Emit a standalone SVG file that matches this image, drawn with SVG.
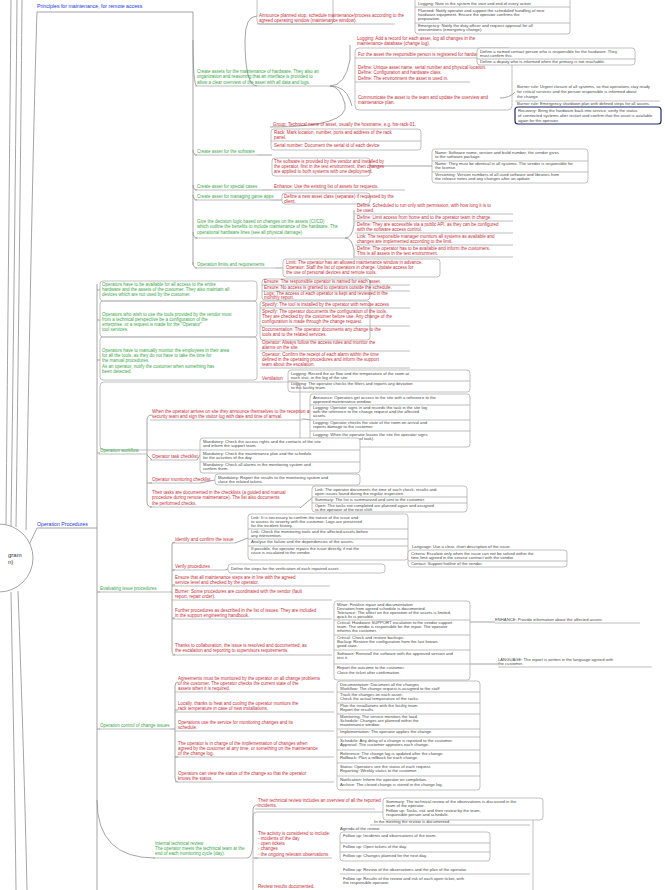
<svg xmlns="http://www.w3.org/2000/svg" width="665" height="890" viewBox="0 0 665 890">
<style>
text{font-family:"Liberation Sans",Arial,sans-serif;font-size:4.5px}
.g{fill:#3aa848}
.r{fill:#c8303a}
.b{fill:#2236d8;font-size:5.2px}
.k{fill:#4a4a4a;font-size:4.2px}
.c{fill:none;stroke:#8e8e8e;stroke-width:0.8}
.u{fill:none;stroke:#a0a0a0;stroke-width:0.7}
.grp{fill:none;stroke:#b0b0b0;stroke-width:0.8}
.lf{fill:#fff;stroke:#a6a6a6;stroke-width:0.7}
.bl{fill:#fff;stroke:#1d2a6e;stroke-width:1.2}
</style>
<rect width="665" height="890" fill="#fff"/>

<g id="connectors">
  <path class="c" d="M6 526 C8 300 10 120 11 0"/>
  <path class="c" d="M11 526 C14 300 16 120 17 0"/>
  <path class="c" d="M16 527 C19 300 21 120 22 0"/>
  <path class="c" d="M26 530 C30 300 34 100 37 12"/>
  <path class="c" d="M28 547 L37 528 L97 528"/>
  <path class="c" d="M18 591 C22 700 25 800 27 890"/>
  <path class="c" d="M11 592 C13 700 15 800 16 890"/>
  <path class="c" d="M97 284 L97 890"/>
  <path class="c" d="M37 12 L193 12 L193 265"/>
  <path class="c" d="M193 40 Q193 86 197 86"/>
  <path class="c" d="M193 150 Q193 155 197 155"/>
  <path class="c" d="M193 185 Q193 190 197 190"/>
  <path class="c" d="M193 195 Q193 200 197 200"/>
  <path class="c" d="M193 232 Q193 238 197 238"/>
  <path class="c" d="M193 262 Q193 268 197 268"/>
  <path class="c" d="M330 86 Q345 86 350 60 L350 45"/>
  <path class="c" d="M330 86 Q345 86 350 100 L352 106"/>
  <path class="c" d="M257 16 Q245 16 245 40 Q245 86 257 86"/>
  <path class="c" d="M330 86 Q340 86 345 104 Q350 127 270 127"/>
  <path class="c" d="M257 155 L272 155"/>
  <path class="c" d="M370 166 Q400 166 432 166"/>
  <path class="c" d="M262 190 L272 190"/>
  <path class="c" d="M270 200 L282 200"/>
  <path class="c" d="M345 238 Q352 238 354 225 L354 210"/>
  <path class="c" d="M345 238 Q352 238 354 250 L354 258"/>
  <path class="c" d="M275 268 L283 268"/>
  <path class="c" d="M500 98 Q510 98 515 92"/>
  <path class="c" d="M97 290 L100 290"/>
  <path class="c" d="M97 320 L100 320"/>
  <path class="c" d="M97 360 L100 360"/>
  <path class="c" d="M97 453 L100 453"/>
  <path class="c" d="M97 592 L100 592"/>
  <path class="c" d="M97 729 L100 729"/>
  <path class="c" d="M97 800 Q97 858 155 858"/>
  <path class="c" d="M147 455 L147 420 Q147 415 152 415"/>
  <path class="c" d="M147 455 L147 502 Q147 507 152 507"/>
  <path class="c" d="M147 455 L152 460"/>
  <path class="c" d="M147 483 L152 483"/>
  <path class="c" d="M197 460 L200 455"/>
  <path class="c" d="M200 483 L215 480"/>
  <path class="c" d="M302 419 Q306 419 310 420"/>
  <path class="c" d="M300 508 L312 498"/>
  <path class="c" d="M170 592 L172 592 L172 545 Q172 542 175 542"/>
  <path class="c" d="M172 592 L172 650 Q172 655 175 655"/>
  <path class="c" d="M172 570 L175 570"/>
  <path class="c" d="M172 585 L175 585"/>
  <path class="c" d="M172 618 L175 618"/>
  <path class="c" d="M235 543 L248 538"/>
  <path class="c" d="M225 570 L228 569"/>
  <path class="c" d="M330 555 L408 555"/>
  <path class="c" d="M170 729 L175 729 L175 686 Q175 682 178 682"/>
  <path class="c" d="M175 729 L175 778 Q175 782 178 782"/>
  <path class="c" d="M175 710 L178 710"/>
  <path class="c" d="M175 757 L178 757"/>
  <path class="c" d="M247 858 Q253 858 253 840 L253 810"/>
  <path class="c" d="M253 810 Q253 805 258 805"/>
  <path class="c" d="M253 858 L258 858"/>
  <path class="c" d="M470 622 L495 622"/>
  <path class="c" d="M470 664 L498 664"/>
  <path class="c" d="M530 810 L543 810"/>
</g>

<g id="root">
  <circle cx="-1" cy="558" r="34" fill="#fff" stroke="#9a9a9a" stroke-width="0.9"/>
  <text x="8" y="557" style="font-size:6px;fill:#333">gram</text>
  <text x="8" y="564" style="font-size:6px;fill:#333">n)</text>
</g>

<g id="n-principles">
  <text class="b" x="37" y="8">Principles for maintenance, for remote access</text>
</g>

<g id="n-op-procedures">
  <text class="b" x="37" y="526">Operation Procedures</text>
</g>

<g id="n-top-red">
  <rect class="grp" x="257" y="-10" width="76" height="34" rx="3"/>
  <text class="r" x="259" y="17">Announce planned stop, schedule maintenance/process according to the</text>
  <text class="r" x="259" y="22">agreed operating window (maintenance window).</text>
  <path class="u" d="M257 24 L395 24"/>
</g>

<g id="leaf-top">
  <rect class="lf" x="415" y="-4" width="155" height="38" rx="3"/>
  <text class="k" x="418" y="5">Logging:     Note in the system the start and end of every action</text>
  <path class="u" d="M415 7 L570 7"/>
  <text class="k" x="418" y="12">Planned:   Notify operator and support the scheduled handling of new</text>
  <text class="k" x="418" y="16">hardware equipment. Ensure the operator confirms the</text>
  <text class="k" x="418" y="20">preparation.</text>
  <path class="u" d="M415 23 L570 23"/>
  <text class="k" x="418" y="27">Emergency:  Notify the duty officer and request approval for all</text>
  <text class="k" x="418" y="31">interventions (emergency change).</text>
</g>

<g id="n-create-hw">
  <text class="g" x="197" y="73">Create assets for the maintenance of hardware. They also an</text>
  <text class="g" x="197" y="78">organization and reasoning that an interface is provided to</text>
  <text class="g" x="197" y="84">allow a clear overview of the asset with all data and logs.</text>
  <path class="u" d="M195 86 L330 86"/>
</g>

<g id="n-hw-details">
  <text class="r" x="357" y="40">Logging:     Add a record for each asset, log all changes in the</text>
  <text class="r" x="357" y="45">maintenance database (change log).</text>
  <rect class="grp" x="355" y="48" width="157" height="62" rx="4"/>
  <text class="r" x="358" y="56">For the asset the responsible person is registered for hardware</text>
  <path class="u" d="M355 58 L477 58"/>
  <text class="r" x="358" y="69">Define:  Unique asset name, serial number and physical location.</text>
  <text class="r" x="358" y="74">Define:      Configuration and hardware class.</text>
  <text class="r" x="358" y="80">Define:      The environment the asset is used in.</text>
  <path class="u" d="M355 82 L470 82"/>
  <text class="r" x="358" y="99">Communicate the asset to the team and update the overview and</text>
  <text class="r" x="358" y="104">maintenance plan.</text>
</g>

<g id="leaf-owner">
  <rect class="lf" x="477" y="48" width="158" height="17" rx="3"/>
  <text class="k" x="480" y="53">Define a named contact person who is responsible for the hardware. They</text>
  <text class="k" x="480" y="57">must confirm this.</text>
  <path class="u" d="M477 59 L635 59"/>
  <text class="k" x="480" y="63">Define a deputy who is informed when the primary is not reachable.</text>
</g>

<g id="n-burner">
  <text class="k" x="517" y="88">Burner rule:  Urgent closure of all systems, so that operations stay ready</text>
  <text class="k" x="517" y="93">for critical services and the person responsible is informed about</text>
  <text class="k" x="517" y="98">the change.</text>
  <path class="u" d="M515 101 L660 101"/>
  <text class="k" x="517" y="105">Burner rule:  Emergency shutdown plan with defined steps for all assets.</text>
  <rect class="bl" x="515" y="107" width="146" height="17" rx="3"/>
  <text class="k" x="518" y="112">Recovery:      Bring the hardware back into service, verify the status</text>
  <text class="k" x="518" y="117">of connected systems after restart and confirm that the asset is available</text>
  <text class="k" x="518" y="122">again for the operator.</text>
</g>

<g id="n-group">
  <text class="r" x="273" y="126">Group:      Technical name of asset, usually the hostname, e.g. hw-rack-01.</text>
  <rect class="grp" x="271" y="129" width="150" height="21" rx="3"/>
  <text class="r" x="274" y="134">Rack:      Mark location, number, ports and address of the rack</text>
  <text class="r" x="274" y="139">panel.</text>
  <path class="u" d="M271 141 L421 141"/>
  <text class="r" x="274" y="147">Serial number:    Document the serial id of each device</text>
</g>

<g id="n-create-sw">
  <text class="g" x="197" y="153">Create asset for the software</text>
  <path class="u" d="M195 155 L257 155"/>
  <rect class="grp" x="272" y="158" width="98" height="18" rx="3"/>
  <text class="r" x="274" y="163">The software is provided by the vendor and installed by</text>
  <text class="r" x="274" y="168">the operator, first in the test environment, then changes</text>
  <text class="r" x="274" y="173">are applied to both systems with one deployment.</text>
</g>

<g id="leaf-sw">
  <rect class="lf" x="432" y="149" width="156" height="34" rx="3"/>
  <text class="k" x="435" y="154">Name:   Software name, version and build number, the vendor gives</text>
  <text class="k" x="435" y="158">to the software package.</text>
  <path class="u" d="M432 161 L588 161"/>
  <text class="k" x="435" y="165">Name:   They must be identical in all systems. The vendor is responsible for</text>
  <text class="k" x="435" y="169">the license.</text>
  <path class="u" d="M432 172 L588 172"/>
  <text class="k" x="435" y="176">Versioning:      Version numbers of all used software and libraries from</text>
  <text class="k" x="435" y="180">the release notes and any changes after an update.</text>
</g>

<g id="n-special">
  <text class="g" x="197" y="188">Create asset for special cases</text>
  <path class="u" d="M195 190 L262 190"/>
  <text class="r" x="274" y="188">Enhance:      Use the existing list of assets for requests.</text>
  <path class="u" d="M272 190 L405 190"/>
</g>

<g id="n-games">
  <text class="g" x="197" y="198">Create asset for managing game apps</text>
  <path class="u" d="M195 200 L270 200"/>
  <rect class="grp" x="282" y="193" width="88" height="11" rx="3"/>
  <text class="r" x="284" y="198">Define a new asset class (separate) if requested by the</text>
  <text class="r" x="284" y="203">client.</text>
</g>

<g id="n-decision">
  <text class="g" x="197" y="223">Give the decision logic based on changes on the assets (CI/CD)</text>
  <text class="g" x="197" y="228">which outline the benefits to include maintenance of the hardware. The</text>
  <text class="g" x="197" y="234">operational hardware lines (see all physical damage).</text>
  <path class="u" d="M195 238 L345 238"/>
</g>

<g id="n-decision-list">
  <text class="r" x="357" y="207">Define:      Scheduled to run only with permission, with how long it is to</text>
  <text class="r" x="357" y="212">be used.</text>
  <path class="u" d="M355 214 L513 214"/>
  <text class="r" x="357" y="219">Define:      Limit access from home and to the operator team in charge.</text>
  <path class="u" d="M355 221 L513 221"/>
  <text class="r" x="357" y="226">Define: They are accessible via a public API, as they can be configured</text>
  <text class="r" x="357" y="231">with the software access control.</text>
  <path class="u" d="M355 233 L513 233"/>
  <text class="r" x="357" y="238">Link:     The responsible manager monitors all systems as available and</text>
  <text class="r" x="357" y="243">changes are implemented according to the limit.</text>
  <path class="u" d="M355 245 L513 245"/>
  <text class="r" x="357" y="250">Define:  The operator has to be available and inform the customers.</text>
  <text class="r" x="357" y="255">This is all assets in the test environment.</text>
  <path class="u" d="M355 257 L513 257"/>
</g>

<g id="n-limits">
  <text class="g" x="197" y="266">Operation limits and requirements</text>
  <path class="u" d="M195 268 L275 268"/>
  <rect class="grp" x="283" y="259" width="157" height="18" rx="3"/>
  <text class="r" x="286" y="264">Limit:    The operator has an allowed maintenance window in advance.</text>
  <text class="r" x="286" y="269">Operator: Staff the list of operators in charge. Update access for</text>
  <text class="r" x="286" y="274">the use of personal devices and remote tools.</text>
</g>

<g id="n-ops-1">
  <rect class="grp" x="100" y="281" width="157" height="20" rx="3"/>
  <text class="g" x="102" y="286">Operators have to be available for all access to the entire</text>
  <text class="g" x="102" y="291">hardware and the assets of the customer. They also maintain all</text>
  <text class="g" x="102" y="296">devices which are not used by the customer.</text>
  <rect class="grp" x="262" y="279" width="108" height="21" rx="3"/>
  <text class="r" x="264" y="283">Ensure:  The responsible operator is named for each asset.</text>
  <path class="u" d="M262 285 L410 285"/>
  <text class="r" x="264" y="289">Ensure:  No access is granted to operators outside the schedule.</text>
  <path class="u" d="M262 291 L410 291"/>
  <text class="r" x="264" y="295">Logs:  The access of each operator is kept and reviewed in the</text>
  <text class="r" x="264" y="299">monthly report.</text>
</g>

<g id="n-ops-2">
  <rect class="grp" x="100" y="301" width="157" height="36" rx="3"/>
  <text class="g" x="102" y="316">Operators who wish to use the tools provided by the vendor must</text>
  <text class="g" x="102" y="321">from a technical perspective be a configuration of the</text>
  <text class="g" x="102" y="326">enterprise, or a request is made for the "Operator"</text>
  <text class="g" x="102" y="331">tool services.</text>
  <rect class="grp" x="260" y="301" width="110" height="39" rx="3"/>
  <text class="r" x="262" y="306">Specify:   The tool is installed by the operator with remote access</text>
  <path class="u" d="M260 308 L410 308"/>
  <text class="r" x="262" y="313">Specify:  The operator documents the configuration of the tools.</text>
  <text class="r" x="262" y="318">They are checked by the customer before use. Any change of the</text>
  <text class="r" x="262" y="323">configuration is made through the change request.</text>
  <path class="u" d="M260 326 L410 326"/>
  <text class="r" x="262" y="331">Documentation:    The operator documents any change to the</text>
  <text class="r" x="262" y="336">tools and to the related services.</text>
</g>

<g id="n-ops-3">
  <rect class="grp" x="100" y="337" width="157" height="43" rx="3"/>
  <text class="g" x="102" y="352">Operators have to manually monitor the employees in their area</text>
  <text class="g" x="102" y="357">for all the tools, as they do not have to take the time for</text>
  <text class="g" x="102" y="362">the manual procedures.</text>
  <text class="g" x="102" y="368">As an operator, notify the customer when something has</text>
  <text class="g" x="102" y="373">been detected.</text>
  <text class="r" x="262" y="344">Operator:    Always follow the access rules and monitor the</text>
  <text class="r" x="262" y="349">alarms on the site.</text>
  <path class="u" d="M260 351 L410 351"/>
  <text class="r" x="262" y="356">Operator:  Confirm the receipt of each alarm within the time</text>
  <text class="r" x="262" y="361">defined in the operating procedures and inform the support</text>
  <text class="r" x="262" y="366">team about the escalation.</text>
  <path class="u" d="M260 368 L410 368"/>
  <text class="r" x="262" y="380">Ventilation</text>
</g>

<g id="leaf-vent">
  <rect class="lf" x="288" y="370" width="182" height="22" rx="3"/>
  <text class="k" x="291" y="375">Logging:   Record the air flow and the temperature of the room at</text>
  <text class="k" x="291" y="379">each visit, in the log of the site.</text>
  <path class="u" d="M288 381 L470 381"/>
  <text class="k" x="291" y="385">Logging:   The operator checks the filters and reports any deviation</text>
  <text class="k" x="291" y="389">to the facility team.</text>
</g>

<g id="n-arrive">
  <rect class="grp" x="100" y="382" width="200" height="68" rx="4"/>
  <text class="r" x="152" y="413">When the operator arrives on site they announce themselves to the reception and the</text>
  <text class="r" x="152" y="418">security team and sign the visitor log with date and time of arrival.</text>
  <path class="u" d="M150 420 L302 420"/>
</g>

<g id="leaf-arrive">
  <rect class="lf" x="310" y="394" width="160" height="53" rx="3"/>
  <text class="k" x="313" y="399">Announce:   Operators get access to the site with a reference to the</text>
  <text class="k" x="313" y="403">approved maintenance window.</text>
  <path class="u" d="M310 405 L470 405"/>
  <text class="k" x="313" y="409">Logging:   Operator signs in and records the task in the site log</text>
  <text class="k" x="313" y="413">with the reference to the change request and the affected</text>
  <text class="k" x="313" y="417">assets.</text>
  <path class="u" d="M310 420 L470 420"/>
  <text class="k" x="313" y="424">Logging:   Operator checks the state of the room on arrival and</text>
  <text class="k" x="313" y="428">reports damage to the customer.</text>
  <path class="u" d="M310 431 L470 431"/>
  <text class="k" x="313" y="436">Logging:  When the operator leaves the site the operator signs</text>
  <text class="k" x="313" y="440">out (date, time, outcome of task).</text>
</g>

<g id="n-workflow">
  <text class="g" x="100" y="452">Operation workflow</text>
  <path class="u" d="M99 454 L147 454"/>
</g>

<g id="n-task-checklist">
  <text class="r" x="152" y="458">Operator task checklist</text>
  <path class="u" d="M150 460 L197 460"/>
  <rect class="lf" x="200" y="438" width="160" height="35" rx="3"/>
  <text class="k" x="203" y="443">Mandatory:     Check the access rights and the contacts of the site</text>
  <text class="k" x="203" y="447">and inform the support team.</text>
  <path class="u" d="M200 450 L360 450"/>
  <text class="k" x="203" y="455">Mandatory:     Check the maintenance plan and the schedule</text>
  <text class="k" x="203" y="459">for the activities of the day.</text>
  <path class="u" d="M200 462 L360 462"/>
  <text class="k" x="203" y="466">Mandatory:   Check all alarms in the monitoring system and</text>
  <text class="k" x="203" y="470">confirm them.</text>
</g>

<g id="n-monitor-checklist">
  <text class="r" x="152" y="481">Operator monitoring checklist</text>
  <path class="u" d="M150 483 L200 483"/>
  <rect class="lf" x="215" y="474" width="145" height="11" rx="3"/>
  <text class="k" x="218" y="479">Mandatory:   Report the results to the monitoring system and</text>
  <text class="k" x="218" y="483">close the related tickets.</text>
</g>

<g id="n-tasks">
  <text class="r" x="152" y="494">Their tasks are documented in the checklists (a guided and manual</text>
  <text class="r" x="152" y="499">procedure during remote maintenance). The list also documents</text>
  <text class="r" x="152" y="505">the performed checks.</text>
  <path class="u" d="M150 507 L300 507"/>
  <rect class="lf" x="312" y="486" width="155" height="26" rx="3"/>
  <text class="k" x="315" y="491">Link:     The operator documents the time of each check, results and</text>
  <text class="k" x="315" y="495">open issues found during the regular inspection.</text>
  <path class="u" d="M312 497 L467 497"/>
  <text class="k" x="315" y="501">Summary:  The list is summarized and sent to the customer.</text>
  <path class="u" d="M312 503 L467 503"/>
  <text class="k" x="315" y="507">Open:  The tasks not completed are planned again and assigned</text>
  <text class="k" x="315" y="511">to the operator of the next shift.</text>
</g>

<g id="n-identify">
  <text class="r" x="175" y="541">Identify and confirm the issue</text>
  <path class="u" d="M172 543 L235 543"/>
  <rect class="lf" x="248" y="514" width="160" height="46" rx="3"/>
  <text class="k" x="251" y="519">Link:   It is necessary to confirm the nature of the issue and</text>
  <text class="k" x="251" y="523">to assess its severity with the customer. Logs are preserved</text>
  <text class="k" x="251" y="527">for the incident history.</text>
  <path class="u" d="M248 529 L408 529"/>
  <text class="k" x="251" y="533">Link:  Check the monitoring tools and the affected assets before</text>
  <text class="k" x="251" y="537">any intervention.</text>
  <path class="u" d="M248 539 L408 539"/>
  <text class="k" x="251" y="543">Analyse the failure and the dependencies of the assets.</text>
  <path class="u" d="M248 546 L408 546"/>
  <text class="k" x="251" y="550">If possible, the operator repairs the issue directly, if not the</text>
  <text class="k" x="251" y="554">issue is escalated to the vendor.</text>
</g>

<g id="leaf-escalate">
  <text class="k" x="412" y="548">Language:     Use a clear, short description of the issue.</text>
  <rect class="lf" x="408" y="550" width="159" height="17" rx="3"/>
  <text class="k" x="411" y="555">Criteria:   Escalate only when the issue can not be solved within the</text>
  <text class="k" x="411" y="559">time limit agreed in the service contract with the vendor.</text>
  <path class="u" d="M408 561 L567 561"/>
  <text class="k" x="411" y="565">Contact:    Support hotline of the vendor.</text>
</g>

<g id="n-verify">
  <text class="r" x="175" y="568">Verify procedures</text>
  <path class="u" d="M172 570 L225 570"/>
  <rect class="lf" x="228" y="564" width="157" height="9" rx="3"/>
  <text class="k" x="231" y="570">Define the steps for the verification of each repaired asset.</text>
</g>

<g id="n-ensure">
  <text class="r" x="175" y="579">Ensure that all maintenance steps are in line with the agreed</text>
  <text class="r" x="175" y="584">service level and checked by the operator.</text>
  <path class="u" d="M172 586 L330 586"/>
</g>

<g id="n-evaluating">
  <text class="g" x="100" y="590">Evaluating issue procedures</text>
  <path class="u" d="M99 592 L170 592"/>
</g>

<g id="n-burner2">
  <text class="r" x="175" y="593">Burner:  Some procedures are coordinated with the vendor (fault</text>
  <text class="r" x="175" y="598">report, repair order).</text>
  <path class="u" d="M172 600 L332 600"/>
</g>

<g id="n-further">
  <text class="r" x="175" y="612">Further procedures as described in the list of issues. They are included</text>
  <text class="r" x="175" y="617">in the support engineering handbook.</text>
  <path class="u" d="M172 619 L332 619"/>
</g>

<g id="n-thanks">
  <text class="r" x="175" y="647">Thanks to collaboration, the issue is resolved and documented; as</text>
  <text class="r" x="175" y="652">the escalation and reporting to supervisors requirements.</text>
  <path class="u" d="M172 655 L332 655"/>
</g>

<g id="leaf-issues">
  <rect class="lf" x="334" y="601" width="136" height="79" rx="3"/>
  <text class="k" x="337" y="606">Minor:     Finalise repair and documentation</text>
  <text class="k" x="337" y="610">Deviation from agreed schedule is documented.</text>
  <text class="k" x="337" y="614">Tolerance:  The effect on the operation of the assets is limited,</text>
  <text class="k" x="337" y="618">quick fix is possible.</text>
  <path class="u" d="M334 620 L470 620"/>
  <text class="k" x="337" y="624">Critical:      Hardware SUPPORT escalation to the vendor support</text>
  <text class="k" x="337" y="628">team. The vendor is responsible for the repair. The operator</text>
  <text class="k" x="337" y="632">informs the customer.</text>
  <path class="u" d="M334 635 L470 635"/>
  <text class="k" x="337" y="639">Critical: Check and restore backups.</text>
  <text class="k" x="337" y="643">Backup: Restore the configuration from the last known</text>
  <text class="k" x="337" y="647">good state.</text>
  <path class="u" d="M334 650 L470 650"/>
  <text class="k" x="337" y="655">Software: Reinstall the software with the approved version and</text>
  <text class="k" x="337" y="659">test it.</text>
  <path class="u" d="M334 664 L470 664"/>
  <text class="k" x="337" y="669">Report the outcome to the customer.</text>
  <text class="k" x="337" y="674">Close the ticket after confirmation.</text>
</g>

<g id="n-notes-right">
  <text class="k" x="495" y="621">ENHANCE:      Provide information about the affected assets</text>
  <path class="u" d="M495 623 L640 623"/>
  <text class="k" x="498" y="661">LANGUAGE:     The report is written in the language agreed with</text>
  <text class="k" x="498" y="665">the customer.</text>
  <path class="u" d="M498 667 L652 667"/>
</g>

<g id="n-change-1">
  <text class="r" x="178" y="680">Agreements must be monitored by the operator on all change problems</text>
  <text class="r" x="178" y="685">of the customer. The operator checks the current state of the</text>
  <text class="r" x="178" y="690">assets when it is required.</text>
  <path class="u" d="M175 692 L334 692"/>
</g>

<g id="n-change-2">
  <text class="r" x="178" y="705">Locally, thanks to heat and cooling the operator monitors the</text>
  <text class="r" x="178" y="710">rack temperature in case of new installations.</text>
  <path class="u" d="M175 712 L334 712"/>
</g>

<g id="n-change-3">
  <text class="r" x="178" y="724">Operations use the service for monitoring changes and its</text>
  <text class="r" x="178" y="729">schedule.</text>
  <path class="u" d="M175 731 L334 731"/>
</g>

<g id="n-control">
  <text class="g" x="100" y="727">Operation control of change issues</text>
  <path class="u" d="M99 729 L170 729"/>
</g>

<g id="n-change-4">
  <text class="r" x="178" y="745">The operator is in charge of the implementation of changes when</text>
  <text class="r" x="178" y="750">agreed by the customer at any time, or something on the maintenance</text>
  <text class="r" x="178" y="755">of the change log.</text>
  <path class="u" d="M175 757 L334 757"/>
</g>

<g id="n-change-5">
  <text class="r" x="178" y="775">Operators can view the status of the change so that the operator</text>
  <text class="r" x="178" y="780">knows the status.</text>
  <path class="u" d="M175 782 L334 782"/>
</g>

<g id="leaf-change">
  <rect class="lf" x="337" y="681" width="143" height="109" rx="3"/>
  <text class="k" x="340" y="686">Documentation: Document all the changes</text>
  <text class="k" x="340" y="690">Workflow: The change request is assigned to the staff</text>
  <path class="u" d="M337 692 L480 692"/>
  <text class="k" x="340" y="696">Track the changes on each asset.</text>
  <text class="k" x="340" y="700">Check the actual temperature of the racks.</text>
  <path class="u" d="M337 703 L480 703"/>
  <text class="k" x="340" y="707">Plan the installations with the facility team.</text>
  <text class="k" x="340" y="711">Report the results.</text>
  <path class="u" d="M337 714 L480 714"/>
  <text class="k" x="340" y="718">Monitoring:   The service monitors the load.</text>
  <text class="k" x="340" y="722">Schedule:  Changes are planned within the</text>
  <text class="k" x="340" y="726">maintenance window.</text>
  <path class="u" d="M337 729 L480 729"/>
  <text class="k" x="340" y="733">Implementation: The operator applies the change.</text>
  <path class="u" d="M337 737 L480 737"/>
  <text class="k" x="340" y="742">Schedule:   Any delay of a change is reported to the customer.</text>
  <text class="k" x="340" y="746">Approval: The customer approves each change.</text>
  <path class="u" d="M337 750 L480 750"/>
  <text class="k" x="340" y="755">Reference: The change log is updated after the change.</text>
  <text class="k" x="340" y="759">Rollback:   Plan a rollback for each change.</text>
  <path class="u" d="M337 763 L480 763"/>
  <text class="k" x="340" y="768">Status:  Operators see the status of each request.</text>
  <text class="k" x="340" y="772">Reporting: Weekly status to the customer.</text>
  <path class="u" d="M337 776 L480 776"/>
  <text class="k" x="340" y="781">Notification: Inform the operator on completion.</text>
  <text class="k" x="340" y="786">Archive: The closed change is stored in the change log.</text>
</g>

<g id="n-internal">
  <text class="g" x="155" y="845">Internal technical review</text>
  <text class="g" x="155" y="850">The operator meets the technical team at the</text>
  <text class="g" x="155" y="855">end of each monitoring cycle (day).</text>
  <path class="u" d="M153 858 L247 858"/>
</g>

<g id="n-activity">
  <text class="r" x="258" y="802">Their technical review includes an overview of all the reported</text>
  <text class="r" x="258" y="807">incidents.</text>
  <path class="u" d="M255 809 L375 809"/>
  <rect class="grp" x="253" y="812" width="280" height="82" rx="4"/>
  <text class="r" x="258" y="835">The activity is considered to include:</text>
  <text class="r" x="258" y="840">- incidents of the day</text>
  <text class="r" x="258" y="845">- open tickets</text>
  <text class="r" x="258" y="850">- changes</text>
  <text class="r" x="258" y="856">- the ongoing relevant observations</text>
  <path class="u" d="M255 858 L332 858"/>
  <text class="r" x="258" y="888">Review results documented.</text>
</g>

<g id="leaf-review">
  <rect class="lf" x="383" y="798" width="160" height="22" rx="3"/>
  <text class="k" x="386" y="803">Summary:  The technical review of the observations is discussed in the</text>
  <text class="k" x="386" y="807">team of the operator.</text>
  <text class="k" x="386" y="812">Follow up:    Tasks, risk and their review by the team,</text>
  <text class="k" x="386" y="816">responsible person and schedule.</text>
  <text class="k" x="374" y="823">In the meeting the review is documented.</text>
  <path class="u" d="M370 825 L530 825"/>
  <text class="k" x="340" y="830">Agenda of the review</text>
  <rect class="lf" x="340" y="832" width="150" height="29" rx="3"/>
  <text class="k" x="343" y="837">Follow up:   Incidents and observations of the team.</text>
  <path class="u" d="M340 843 L490 843"/>
  <text class="k" x="343" y="848">Follow up:   Open tickets of the day.</text>
  <path class="u" d="M340 852 L490 852"/>
  <text class="k" x="343" y="857">Follow up:   Changes planned for the next day.</text>
  <text class="k" x="343" y="871">Follow up:   Review of the observations and the plan of the operator.</text>
  <path class="u" d="M340 874 L530 874"/>
  <text class="k" x="343" y="880">Follow up:   Results of the review and risk of each open ticket, with</text>
  <text class="k" x="343" y="884">the responsible operator.</text>
</g>
</svg>
